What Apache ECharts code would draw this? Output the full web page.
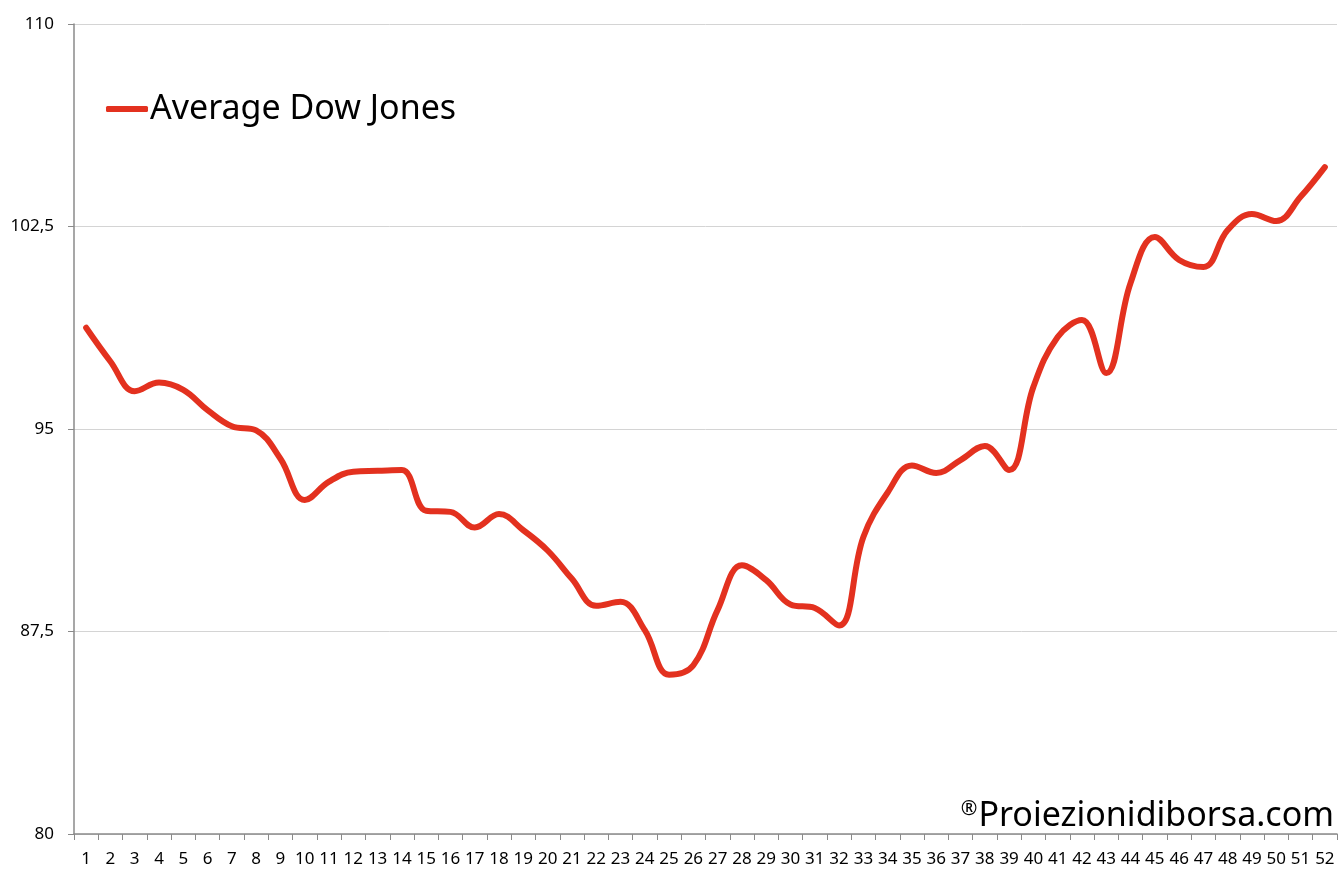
<!DOCTYPE html>
<html>
<head>
<meta charset="utf-8">
<script src="https://cdn.jsdelivr.net/npm/echarts@6/dist/echarts.min.js"></script>
<style>
html,body{margin:0;padding:0;background:#fff;}
#chart{width:1341px;height:870px;}
</style>
</head>
<body>
<div id="chart"></div>
<script>
const weeks = ['1','2','3','4','5','6','7','8','9','10','11','12','13','14','15','16','17','18','19','20','21','22','23','24','25','26','27','28','29','30','31','32','33','34','35','36','37','38','39','40','41','42','43','44','45','46','47','48','49','50','51','52'];
const averageDowJones = [98.75,97.5,96.4,96.72,96.45,95.7,95.1,94.95,93.9,92.37,93.05,93.42,93.45,93.48,91.97,91.93,91.35,91.85,91.25,90.5,89.45,88.45,88.6,87.55,85.9,86.25,88.3,89.95,89.4,88.5,88.37,87.72,91.0,92.65,93.65,93.37,93.85,94.37,93.48,96.56,98.41,99.04,97.07,100.41,102.11,101.26,101.0,102.37,102.96,102.7,103.6,104.7];
const seriesName = 'Average Dow Jones';
const yMin = 80, yMax = 110, yStep = 7.5;
const watermarkMark = '\u00AE';
const watermarkText = 'Proiezionidiborsa.com';

const FONT = 'Noto Sans';
const chart = echarts.init(document.getElementById('chart'), null, {renderer:'canvas'});
chart.setOption({
  animation:false,
  backgroundColor:'#ffffff',
  grid:{left:74, right:4, top:24, bottom:36, containLabel:false},
  legend:{
    show:true, left:106, top:92, padding:0,
    icon:'roundRect', itemWidth:42, itemHeight:6, itemGap:10,
    data:[seriesName],
    textStyle:{fontFamily:FONT, fontSize:34, color:'#000', padding:[0,0,0,-3]}
  },
  xAxis:{
    type:'category', data:weeks, boundaryGap:true,
    axisLine:{show:true, lineStyle:{color:'#8a8a8a', width:1.5}},
    axisTick:{show:true, length:6, alignWithLabel:false, lineStyle:{color:'#8a8a8a'}},
    axisLabel:{interval:0, margin:17, fontFamily:FONT, fontSize:17, color:'#000'},
    splitLine:{show:false}
  },
  yAxis:{
    type:'value', min:yMin, max:yMax, interval:yStep,
    axisLine:{show:true, lineStyle:{color:'#8a8a8a', width:1.5}},
    axisTick:{show:true, length:6, lineStyle:{color:'#8a8a8a'}},
    axisLabel:{margin:20, fontFamily:FONT, fontSize:17, color:'#000',
      formatter:v => String(v).replace('.', ',')},
    splitLine:{show:true, lineStyle:{color:'#d4d4d4', width:1}}
  },
  graphic:[{
    type:'text', right:7, top:799,
    style:{
      text:'{s|' + watermarkMark + '}{m|' + watermarkText + '}',
      rich:{
        s:{fontFamily:FONT, fontSize:20, fill:'#000', verticalAlign:'top', padding:[0,1,14,0]},
        m:{fontFamily:FONT, fontSize:34, fill:'#000'}
      }
    }
  }],
  series:[{
    name:seriesName, type:'line', data:averageDowJones,
    smooth:0.4, symbol:'none',
    lineStyle:{color:'#E3311F', width:6, cap:'round', join:'round'},
    itemStyle:{color:'#E3311F'}
  }]
});
</script>
</body>
</html>
